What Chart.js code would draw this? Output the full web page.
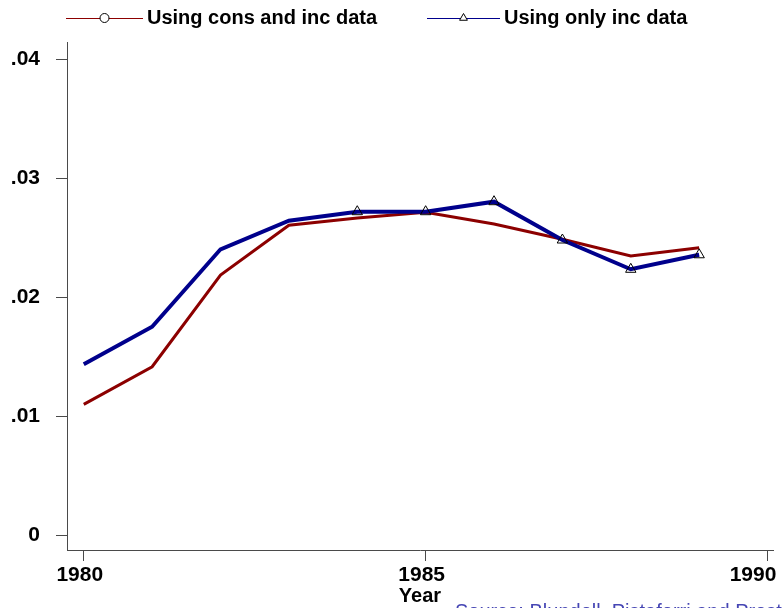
<!DOCTYPE html>
<html>
<head>
<meta charset="utf-8">
<script src="https://cdn.jsdelivr.net/npm/chart.js@4.4.1/dist/chart.umd.min.js"></script>
<style>
html, body { margin: 0; padding: 0; background: #fff; overflow: hidden; }
#wrap { position: relative; width: 782px; height: 608px; }
#source {
    position: absolute; left: 455px; top: 601px;
    font: 20px/20px "Liberation Sans", Arial, sans-serif;
    color: #4646b4; white-space: nowrap;
}
</style>
</head>
<body>
<div id="wrap">
    <canvas id="chart" width="782" height="608"></canvas>
    <div id="source">Source: Blundell, Pistaferri and Preston (2008)</div>
</div>
<script>
// data
const years = [1980, 1981, 1982, 1983, 1984, 1985, 1986, 1987, 1988, 1989];
const consIncData = [0.01098, 0.01414, 0.02185, 0.02603, 0.02664, 0.02712, 0.02613, 0.02485, 0.02345, 0.02414];
const incOnlyData = [0.01434, 0.01750, 0.02401, 0.02641, 0.02717, 0.02717, 0.02801, 0.02479, 0.02233, 0.02355];
const seriesLabels = ['Using cons and inc data', 'Using only inc data'];
const xTicks = [1980, 1985, 1990];
const yTicks = [0, 0.01, 0.02, 0.03, 0.04];

const FONT = "'Liberation Sans', Arial, sans-serif";
const axisColor = '#4a4a4a';

// legend: thin line with the marker in the middle, like Stata draws it
const lineLegend = {
    id: 'lineLegend',
    afterDraw(chart) {
        const ctx = chart.ctx;
        const y = 18;
        const slots = [
            { x0: 66, x1: 143, style: 'circle' },
            { x0: 427, x1: 500, style: 'triangle' }
        ];
        ctx.save();
        chart.data.datasets.forEach((ds, i) => {
            const s = slots[i];
            ctx.strokeStyle = ds.borderColor;
            ctx.lineWidth = 1;
            ctx.beginPath();
            ctx.moveTo(s.x0, y + 0.5);
            ctx.lineTo(s.x1, y + 0.5);
            ctx.stroke();
            ctx.strokeStyle = '#000';
            ctx.fillStyle = '#fff';
            ctx.lineWidth = 1;
            Chart.helpers.drawPoint(ctx, { pointStyle: s.style, radius: 4.5, borderWidth: 1 }, (s.x0 + s.x1) / 2, y);
            ctx.fillStyle = '#000';
            ctx.font = 'bold 20px ' + FONT;
            ctx.textAlign = 'left';
            ctx.textBaseline = 'middle';
            ctx.fillText(ds.label, s.x1 + 4, y);
        });
        ctx.restore();
    }
};

new Chart(document.getElementById('chart'), {
    type: 'line',
    data: {
        labels: years,
        datasets: [
            {
                label: seriesLabels[0],
                data: years.map((yr, i) => ({ x: yr, y: consIncData[i] })),
                borderColor: '#8c0000',
                borderWidth: 3,
                pointRadius: 0,
                tension: 0,
                order: 1
            },
            {
                label: seriesLabels[1],
                data: years.map((yr, i) => ({ x: yr, y: incOnlyData[i] })),
                borderColor: '#00008c',
                borderWidth: 4,
                pointStyle: 'triangle',
                pointRadius: [0, 0, 0, 0, 6, 6, 6, 6, 6, 6],
                pointBorderColor: '#000',
                pointBackgroundColor: 'rgba(255,255,255,0)',
                pointBorderWidth: 1,
                tension: 0,
                order: 0
            }
        ]
    },
    options: {
        responsive: false,
        animation: false,
        layout: { padding: { top: 42, right: 9, bottom: 0, left: 0 } },
        plugins: {
            legend: { display: false },
            tooltip: { enabled: false }
        },
        scales: {
            x: {
                type: 'linear',
                min: 1979.755,
                max: 1990.08,
                afterBuildTicks: axis => { axis.ticks = xTicks.map(v => ({ value: v })); },
                afterFit: scale => {
                    scale.height = 58;
                    scale.paddingLeft = 0;
                    scale.paddingRight = 0;
                },
                grid: { drawOnChartArea: false, drawTicks: true, tickLength: 11, tickColor: axisColor },
                border: { color: axisColor, width: 1 },
                ticks: {
                    color: '#000',
                    padding: 2,
                    maxRotation: 0,
                    labelOffset: -4,
                    font: { family: FONT, size: 21, weight: 'bold' },
                    // last label sits pulled in from the right edge, as in the original
                    callback: v => v === 1990 ? '1990\u2003' : String(v)
                },
                title: {
                    display: true,
                    text: 'Year',
                    color: '#000',
                    padding: { top: 0, bottom: 0 },
                    font: { family: FONT, size: 20, weight: 'bold' }
                }
            },
            y: {
                min: -0.00126,
                max: 0.04143,
                afterBuildTicks: axis => { axis.ticks = yTicks.map(v => ({ value: v })); },
                afterFit: scale => { scale.width = 67; },
                grid: { drawOnChartArea: false, drawTicks: true, tickLength: 11, tickColor: axisColor },
                border: { color: axisColor, width: 1 },
                ticks: {
                    color: '#000',
                    padding: 16,
                    font: { family: FONT, size: 21, weight: 'bold' },
                    callback: v => v === 0 ? '0' : v.toFixed(2).replace(/^0/, '')
                }
            }
        }
    },
    plugins: [lineLegend]
});
</script>
</body>
</html>
